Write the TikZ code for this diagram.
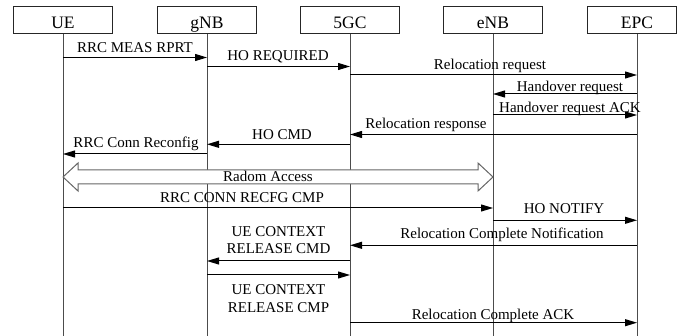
\documentclass[tikz,border=0pt]{standalone}
\usepackage{fontspec}
\setmainfont{Liberation Serif}
\usetikzlibrary{positioning,calc,arrows.meta}

\begin{document}
\begin{tikzpicture}[x=1pt,y=-1pt]
		\tikzset{entity/.style={draw=black!85,line width=1pt,minimum width=99pt,minimum height=27pt,inner sep=0pt}}
		\tikzset{entitytext/.style={font=\fontsize{17.5}{20}\selectfont,text height=15.6pt,text depth=0pt}}
		\tikzset{lifeline/.style={draw=black!70,line width=1pt}}
		\tikzset{msg/.style={-{Triangle[length=12pt,width=7pt]},line width=1pt}}
		\tikzset{msgtext/.style={font=\fontsize{15}{17.6}\selectfont,inner sep=0pt,anchor=base}}
		\tikzset{bigarrow/.style={draw=black!60,fill=white,line width=1pt,line join=miter}}
		
		\useasboundingbox (0,0) rectangle (677,336);
		
		\newcommand\drawEntity[3] % {x} {label} {name}
		{
			\node[entity,entitytext] at (#1,20.5) (#3) {#2};
			\coordinate (#3-end) at (#1,336);
			\draw[lifeline] (#3) -- (#3-end);
		}
		
		\newcommand\drawMsg[7] % {from x} {to x} {y} {label x} {label y} {label} {name}
		{
			\coordinate (#7-a) at (#1,#3);
			\coordinate (#7-b) at (#2,#3);
			\draw[msg] (#7-a) -- (#7-b);
			\node[msgtext] at (#4,#5) (#7-l) {#6};
		}
		
		\drawEntity{63}{UE}{ue}
		\drawEntity{207}{gNB}{gnb}
		\drawEntity{350}{5GC}{core}
		\drawEntity{493}{eNB}{enb}
		
		% EPC box is cut by the right edge
		\node[entity,minimum width=89pt,label={[entitytext,xshift=5.25pt]center:EPC}] at (631.75,20.5) (epc) {};
		\coordinate (epc-end) at (637,336);
		\draw[lifeline] (epc.south -| epc-end) -- (epc-end);
		
		\drawMsg{63}{207}{57.5}{135}{52.3}{RRC MEAS RPRT}{m1}
		\drawMsg{207}{350}{66.5}{278}{60.7}{HO REQUIRED}{m2}
		\drawMsg{350}{637}{75}{490}{70}{Relocation request}{m3}
		\drawMsg{637}{493}{94}{570}{91.7}{Handover request}{m4}
		\drawMsg{493}{637}{115}{570}{112.7}{Handover request ACK}{m5}
		\drawMsg{637}{350}{134.5}{426}{128.3}{Relocation response}{m6}
		\drawMsg{350}{207}{144.3}{282}{139.3}{HO CMD}{m7}
		\drawMsg{207}{63}{154}{136}{147.7}{RRC Conn Reconfig}{m8}
		
		% random access, hollow double arrow
		\coordinate (ra-a) at (63,177);
		\coordinate (ra-b) at (493,177);
		\draw[bigarrow] (ra-a) -- ++(15,-14) -- ++(0,7) -- ($(ra-b)+(-15,-7)$) -- ++(0,-7)
		-- (ra-b) -- ++(-15,14) -- ++(0,-7) -- ($(ra-a)+(15,7)$) -- ++(0,7) -- cycle;
		\node[msgtext] at (268,182) (ra-l) {Radom Access};
		
		\drawMsg{63}{493}{208}{242}{203}{RRC CONN RECFG CMP}{m9}
		\drawMsg{493}{637}{220.3}{564}{213.3}{HO NOTIFY}{m10}
		\drawMsg{637}{350}{245.3}{502}{238.7}{Relocation Complete Notification}{m11}
		
		\coordinate (m12-a) at (350,261);
		\coordinate (m12-b) at (207,261);
		\draw[msg] (m12-a) -- (m12-b);
		\node[msgtext,align=center,anchor=south] at (278.5,254.3) (m12-l) {UE CONTEXT\\RELEASE CMD};
		
		\coordinate (m13-a) at (207,275);
		\coordinate (m13-b) at (350,275);
		\draw[msg] (m13-a) -- (m13-b);
		\node[msgtext,align=center,anchor=north] at (278.5,284.3) (m13-l) {UE CONTEXT\\RELEASE CMP};
		
		\drawMsg{350}{637}{322.7}{493}{319.3}{Relocation Complete ACK}{m14}
		
\end{tikzpicture}
\end{document}
